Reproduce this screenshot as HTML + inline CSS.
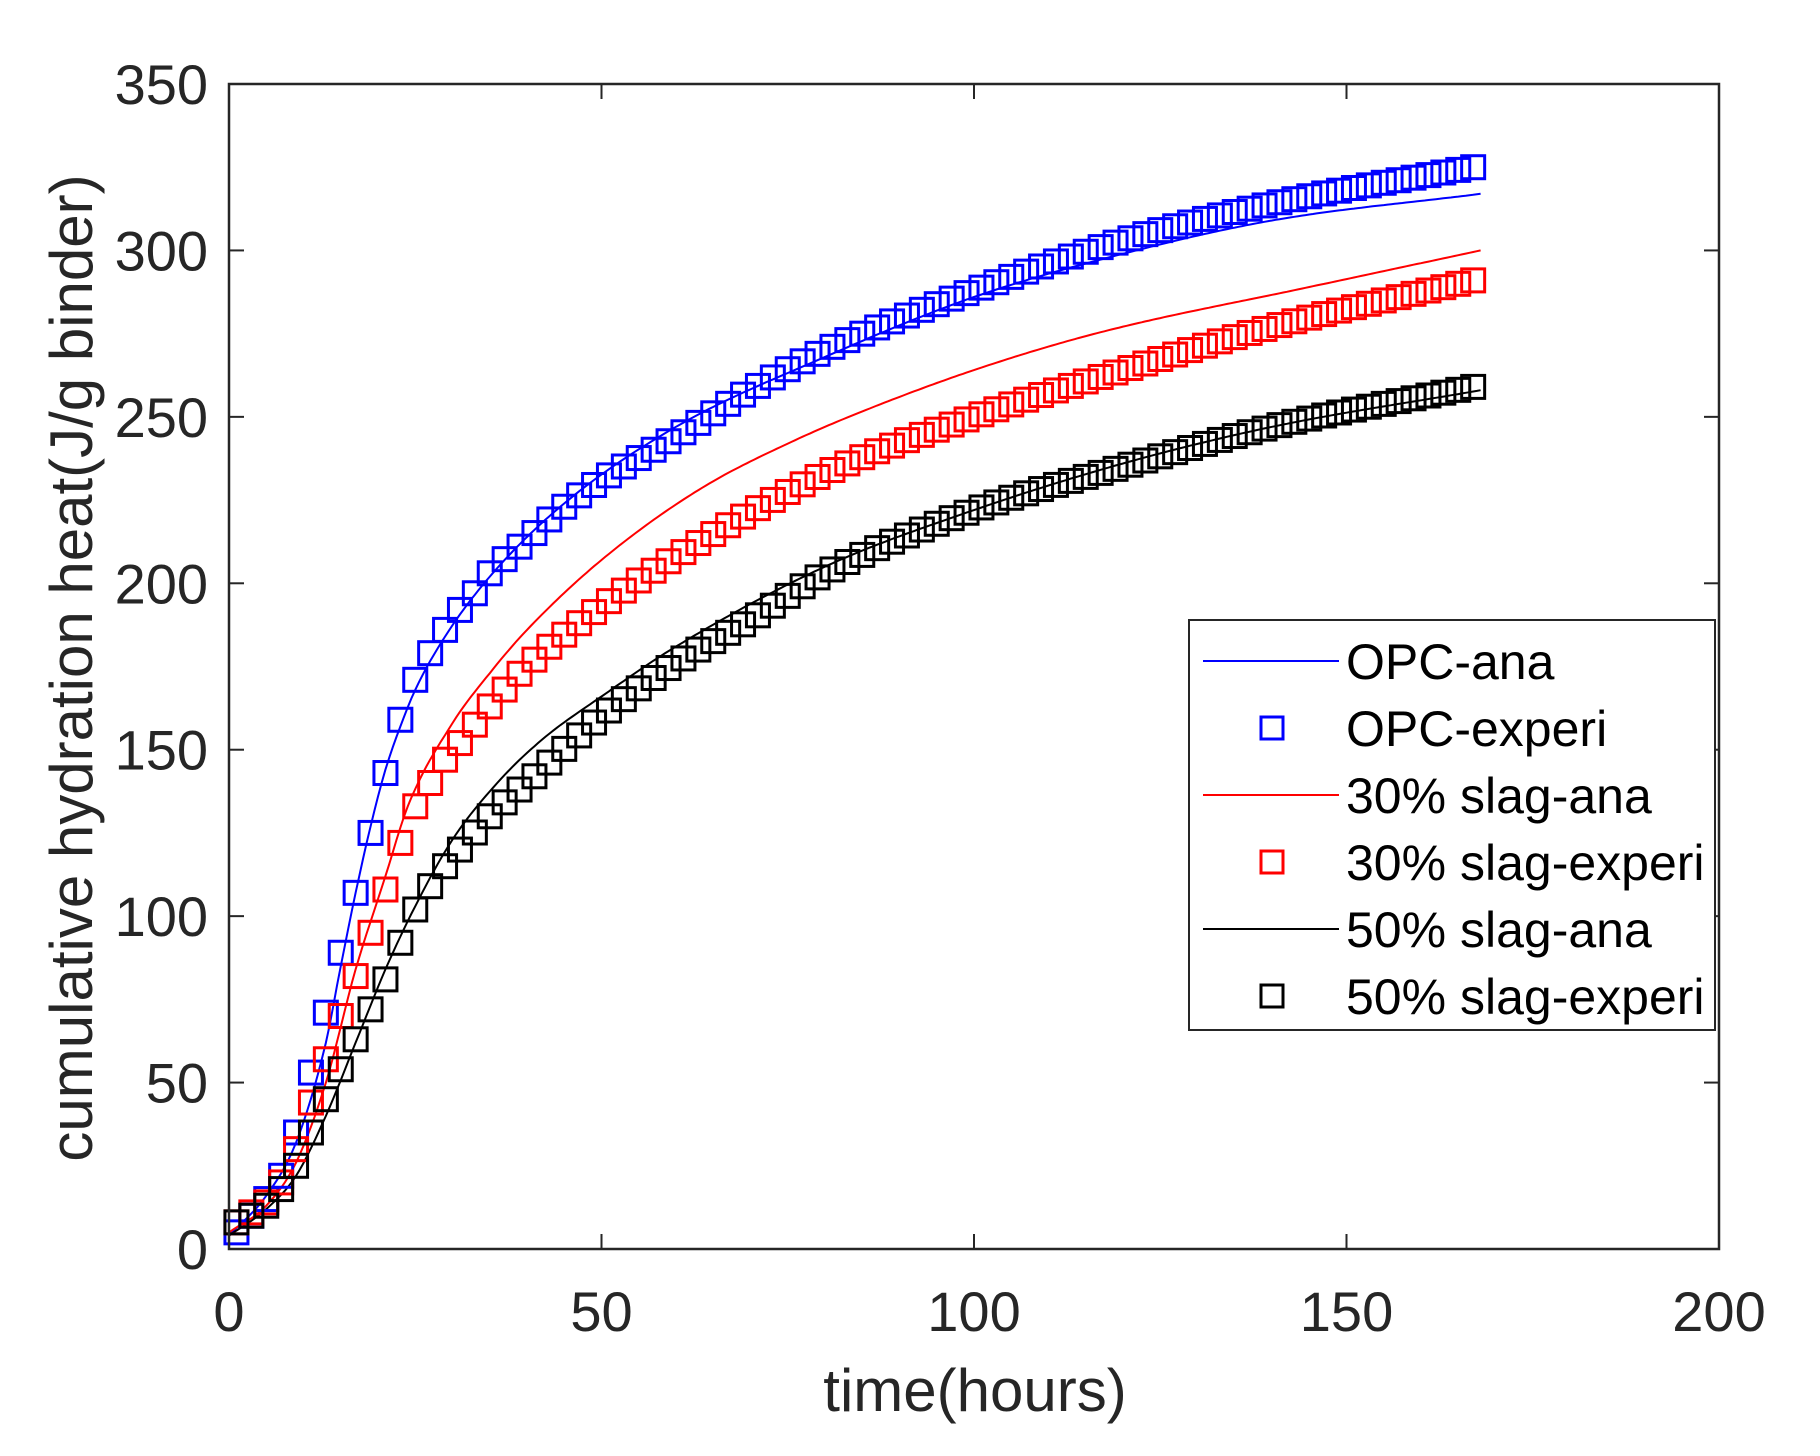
<!DOCTYPE html>
<html><head><meta charset="utf-8"><style>
html,body{margin:0;padding:0;background:#fff;}
svg text{font-family:"Liberation Sans",Arial,sans-serif;fill:#262626;}
</style></head><body>
<svg id="s" width="1820" height="1451" xmlns="http://www.w3.org/2000/svg">
<rect width="1820" height="1451" fill="#fff"/>
<g id="plot"></g>
<rect x="229" y="84" width="1490" height="1165" fill="none" stroke="#262626" stroke-width="2.5"/>
<g id="ticks" stroke="#262626" stroke-width="2"></g>
<g font-size="56" text-anchor="end" id="yl"></g>
<g font-size="56" text-anchor="middle" id="xl"></g>
<text x="975" y="1411" font-size="60" text-anchor="middle">time(hours)</text>
<text transform="translate(92,668) rotate(-90)" font-size="60" text-anchor="middle">cumulative hydration heat(J/g binder)</text>
<rect x="1189" y="620" width="526" height="410" fill="#fff" stroke="#262626" stroke-width="2"/>
<g font-size="50">
<line x1="1203" y1="661" x2="1339" y2="661" stroke="#0000ff" stroke-width="2"/>
<text x="1346" y="679" style="fill:#000">OPC-ana</text>
<rect x="1261" y="717" width="22" height="22" fill="none" stroke="#0000ff" stroke-width="3"/>
<text x="1346" y="746" style="fill:#000">OPC-experi</text>
<line x1="1203" y1="795" x2="1339" y2="795" stroke="#ff0000" stroke-width="2"/>
<text x="1346" y="813" style="fill:#000">30% slag-ana</text>
<rect x="1261" y="851" width="22" height="22" fill="none" stroke="#ff0000" stroke-width="3"/>
<text x="1346" y="880" style="fill:#000">30% slag-experi</text>
<line x1="1203" y1="929" x2="1339" y2="929" stroke="#000" stroke-width="2"/>
<text x="1346" y="947" style="fill:#000">50% slag-ana</text>
<rect x="1261" y="985" width="22" height="22" fill="none" stroke="#000" stroke-width="3"/>
<text x="1346" y="1014" style="fill:#000">50% slag-experi</text>
</g>
</svg>
<script>
const X0=229,X1=1719,Y0=1249,Y1=84;
const sx=t=>X0+t*(X1-X0)/200, sy=v=>Y0-v*(Y0-Y1)/350;
const NS="http://www.w3.org/2000/svg";
function el(p,n,a){const e=document.createElementNS(NS,n);for(const k in a)e.setAttribute(k,a[k]);p.appendChild(e);return e;}
const tk=document.getElementById('ticks'),yl=document.getElementById('yl'),xl=document.getElementById('xl');
for(let v=0;v<=350;v+=50){const y=sy(v);el(tk,'line',{x1:X0,y1:y,x2:X0+15,y2:y});el(tk,'line',{x1:X1,y1:y,x2:X1-15,y2:y});
 const t=el(yl,'text',{x:208,y:y+20});t.textContent=v;}
for(let v=0;v<=200;v+=50){const x=sx(v);el(tk,'line',{x1:x,y1:Y0,x2:x,y2:Y0-15});el(tk,'line',{x1:x,y1:Y1,x2:x,y2:Y1+15});
 const t=el(xl,'text',{x:x,y:1331});t.textContent=v;}
function interp(k){const xs=k.map(p=>p[0]),ys=k.map(p=>p[1]),n=xs.length;const d=[],m=[];
 for(let i=0;i<n-1;i++)d.push((ys[i+1]-ys[i])/(xs[i+1]-xs[i]));
 m[0]=d[0];m[n-1]=d[n-2];for(let i=1;i<n-1;i++)m[i]=d[i-1]*d[i]<=0?0:(d[i-1]+d[i])/2;
 return t=>{let i=0;while(i<n-2&&t>xs[i+1])i++;const h=xs[i+1]-xs[i],s=(t-xs[i])/h;
  const h00=2*s*s*s-3*s*s+1,h10=s*s*s-2*s*s+s,h01=-2*s*s*s+3*s*s,h11=s*s*s-s*s;
  return h00*ys[i]+h10*h*m[i]+h01*ys[i+1]+h11*h*m[i+1];};}
const S=[
{c:'#0000ff',
 ana:[[0,4],[5,16],[9,32],[13,62],[15,85],[17,107],[19,127],[21,144],[23,157],[25,168],[29,184],[35,202],[45,224],[60,247],[80,268],[100,286],[120,299],[140,309],[168,317]],
 exp:[[1,5],[3,10],[5,15],[7,22],[9,35],[11,53],[13,71],[15,89],[17,107],[19,125],[21,143],[23,159],[25,171],[27,179],[29,186],[31,192],[33,197],[35,203],[39,211],[45,223],[50,231],[60,244],[70,258],[80,270],[100,288],[120,303],[140,314],[167,325]]},
{c:'#ff0000',
 ana:[[0,5],[5,13],[9,26],[13,50],[17,84],[21,112],[24,133],[30,158],[35,173],[40,186],[50,207],[63,228],[76,243],[90,256],[104,267],[118,276],[145,289],[168,300]],
 exp:[[1,8],[3,11],[5,14],[7,20],[9,30],[11,44],[13,57],[15,70],[17,82],[19,95],[21,108],[23,122],[25,133],[27,140],[29,147],[31,152],[35,163],[40,175],[50,193],[60,208],[80,233],[100,250],[120,264],[140,277],[167,291]]},
{c:'#000000',
 ana:[[0,4],[5,12],[9,22],[13,40],[17,62],[21,84],[25,103],[30,123],[36,140],[42,153],[50,166],[60,181],[80,205],[100,222],[120,236],[140,247],[168,258]],
 exp:[[1,8],[3,10],[5,13],[7,18],[9,25],[11,35],[13,45],[15,54],[17,63],[19,72],[21,81],[23,92],[25,102],[27,109],[29,115],[31,120],[35,130],[40,140],[50,160],[60,176],[70,189],[80,203],[100,222],[120,235],[140,247],[167,259]]}
];
const g=document.getElementById('plot');
for(const s of S){const f=interp(s.ana);let d='';for(let t=0;t<=168;t+=0.5)d+=(t?'L':'M')+sx(t).toFixed(1)+' '+sy(f(t)).toFixed(1);
 el(g,'path',{d:d,fill:'none',stroke:s.c,'stroke-width':2});}
for(const s of S){const f=interp(s.exp);for(let t=1;t<=167;t+=2){el(g,'rect',{x:sx(t)-11.5,y:sy(f(t))-11.5,width:23,height:23,fill:'none',stroke:s.c,'stroke-width':3});}}
</script>
</body></html>
